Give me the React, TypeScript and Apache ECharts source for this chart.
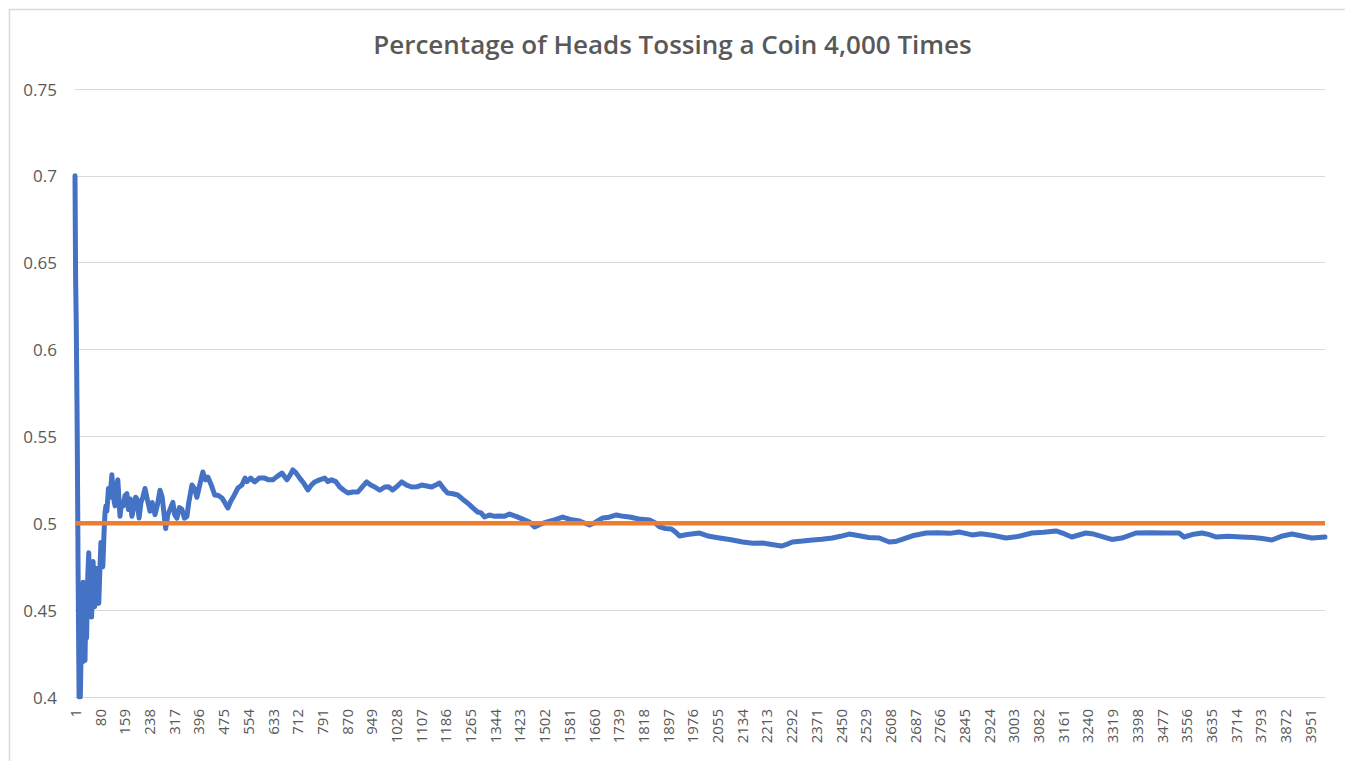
import React, { useEffect, useRef } from "react";
import * as echarts from "echarts";

const TITLE = "Percentage of Heads Tossing a Coin 4,000 Times";
const TOTAL_TOSSES = 4000;
const categories = Array.from({ length: TOTAL_TOSSES }, (_, i) => String(i + 1));

const yTicks = { min: 0.4, max: 0.75, interval: 0.05 };

const trials = [
  1, 3, 5, 8, 11, 14, 18, 22, 25, 27, 31, 33, 36, 38, 42, 45, 48, 51, 54, 59, 64, 68, 71, 74, 77, 81, 84, 88, 90, 94,
  97, 100, 103, 108, 113, 119, 124, 129, 134, 138, 145, 150, 156, 161, 167, 172, 178, 183, 190, 195, 199, 206, 212, 218,
  225, 232, 241, 248, 257, 264, 273, 280, 286, 291, 298, 305, 314, 320, 327, 335, 343, 351, 359, 365, 375, 383, 391,
  400, 410, 418, 426, 437, 448, 460, 471, 480, 490, 500, 510, 522, 535, 545, 551, 563, 576, 590, 608, 620, 634, 648,
  663, 679, 690, 698, 708, 720, 733, 746, 757, 768, 783, 800, 810, 822, 835, 848, 861, 874, 890, 906, 920, 934, 947,
  960, 976, 992, 1004, 1017, 1030, 1046, 1062, 1078, 1094, 1110, 1126, 1142, 1155, 1167, 1180, 1193, 1210, 1225, 1240,
  1257, 1273, 1289, 1300, 1311, 1327, 1343, 1359, 1375, 1391, 1412, 1433, 1455, 1471, 1490, 1509, 1535, 1561, 1590,
  1615, 1647, 1665, 1688, 1710, 1733, 1755, 1775, 1805, 1839, 1855, 1871, 1890, 1909, 1922, 1935, 1960, 1999, 2030,
  2063, 2100, 2137, 2170, 2201, 2230, 2261, 2280, 2296, 2330, 2360, 2390, 2424, 2450, 2478, 2510, 2540, 2574, 2606,
  2625, 2647, 2680, 2724, 2760, 2800, 2829, 2850, 2871, 2900, 2940, 2980, 3020, 3062, 3100, 3139, 3165, 3190, 3235,
  3260, 3290, 3318, 3350, 3395, 3440, 3490, 3533, 3549, 3575, 3606, 3630, 3651, 3690, 3734, 3770, 3800, 3830, 3860,
  3894, 3930, 3958, 3980, 4000,
];

const headsShare = [
  0.7, 0.64, 0.615, 0.555, 0.47, 0.4, 0.4, 0.44, 0.42, 0.466, 0.43, 0.421, 0.455, 0.434, 0.47, 0.483, 0.46, 0.47, 0.446,
  0.478, 0.452, 0.465, 0.474, 0.458, 0.454, 0.475, 0.489, 0.478, 0.475, 0.495, 0.506, 0.51, 0.507, 0.52, 0.515, 0.528,
  0.515, 0.51, 0.522, 0.525, 0.504, 0.512, 0.51, 0.516, 0.517, 0.508, 0.514, 0.504, 0.51, 0.515, 0.514, 0.503, 0.512,
  0.515, 0.52, 0.514, 0.507, 0.512, 0.505, 0.51, 0.519, 0.515, 0.505, 0.497, 0.505, 0.508, 0.512, 0.505, 0.503, 0.509,
  0.508, 0.503, 0.504, 0.512, 0.522, 0.52, 0.515, 0.522, 0.5295, 0.525, 0.5266, 0.522, 0.5163, 0.516, 0.5146, 0.512,
  0.5088, 0.513, 0.516, 0.5203, 0.522, 0.526, 0.524, 0.526, 0.5238, 0.526, 0.526, 0.525, 0.525, 0.527, 0.5289, 0.525,
  0.528, 0.5307, 0.529, 0.526, 0.523, 0.5192, 0.522, 0.5238, 0.525, 0.526, 0.524, 0.525, 0.524, 0.5209, 0.519, 0.5174,
  0.518, 0.518, 0.521, 0.5238, 0.522, 0.5209, 0.519, 0.5209, 0.521, 0.5192, 0.521, 0.5238, 0.522, 0.5209, 0.521, 0.522,
  0.5215, 0.5209, 0.522, 0.5232, 0.52, 0.5174, 0.517, 0.5163, 0.514, 0.5117, 0.509, 0.5065, 0.506, 0.5036, 0.5048,
  0.504, 0.5042, 0.504, 0.5053, 0.504, 0.5024, 0.5007, 0.4979, 0.4995, 0.5007, 0.502, 0.5036, 0.502, 0.5013, 0.499,
  0.5005, 0.503, 0.5035, 0.5048, 0.504, 0.5036, 0.5025, 0.5019, 0.5005, 0.4979, 0.497, 0.4967, 0.495, 0.4927, 0.4935,
  0.4944, 0.4925, 0.4915, 0.4905, 0.4892, 0.4885, 0.4886, 0.4878, 0.4869, 0.488, 0.4892, 0.4898, 0.4904, 0.4908,
  0.4915, 0.4925, 0.4938, 0.4928, 0.4918, 0.4915, 0.4892, 0.4895, 0.4907, 0.4928, 0.4944, 0.4946, 0.4942, 0.495,
  0.4942, 0.4933, 0.494, 0.493, 0.4915, 0.4925, 0.4944, 0.4948, 0.4956, 0.494, 0.4921, 0.4944, 0.4938, 0.4922, 0.4907,
  0.4915, 0.4944, 0.4946, 0.4944, 0.4944, 0.4921, 0.4935, 0.4944, 0.4935, 0.4921, 0.4926, 0.4921, 0.4918, 0.4912,
  0.4904, 0.4925, 0.4938, 0.4925, 0.4915, 0.4918, 0.4921,
];

const referenceTrials = [1, 4000];
const referenceShare = [0.5, 0.5];

export default function App() {
  const ref = useRef<HTMLDivElement>(null);

  useEffect(() => {
    if (!ref.current) return;
    const chart = echarts.init(ref.current, null, { renderer: "svg" });
    const textColor = "#595959";
    const font = "'Open Sans', 'Noto Sans', sans-serif";
    chart.setOption({
      animation: false,
      backgroundColor: "#ffffff",
      title: {
        text: TITLE,
        left: "center",
        top: 26,
        textStyle: { fontFamily: font, fontSize: 26, fontWeight: 600, color: textColor },
      },
      graphic: [
        {
          type: "rect",
          left: 7,
          top: 7,
          shape: { width: 1400, height: 820 },
          style: { fill: "none", stroke: "#d9d9d9", lineWidth: 1.5 },
          silent: true,
          z: -1,
        },
      ],
      grid: { left: 75, right: 20, top: 89, bottom: 64 },
      xAxis: {
        type: "category",
        data: categories,
        boundaryGap: false,
        axisLine: { show: true, lineStyle: { color: "#d9d9d9", width: 1 } },
        axisTick: { show: false },
        axisLabel: {
          interval: 78,
          rotate: 90,
          margin: 12,
          color: textColor,
          fontFamily: font,
          fontSize: 15,
        },
        splitLine: { show: false },
      },
      yAxis: {
        type: "value",
        min: yTicks.min,
        max: yTicks.max,
        interval: yTicks.interval,
        axisLine: { show: false },
        axisTick: { show: false },
        axisLabel: {
          margin: 18,
          color: textColor,
          fontFamily: font,
          fontSize: 17,
          formatter: (v: number) => String(parseFloat(v.toFixed(2))),
        },
        splitLine: { lineStyle: { color: "#d9d9d9", width: 1 } },
      },
      series: [
        {
          name: "Heads",
          type: "line",
          data: trials.map((t, i) => [t - 1, headsShare[i]]),
          showSymbol: false,
          clip: true,
          lineStyle: { color: "#4472C4", width: 5, join: "round", cap: "round" },
          itemStyle: { color: "#4472C4" },
        },
        {
          name: "Expected",
          type: "line",
          data: referenceTrials.map((t, i) => [t - 1, referenceShare[i]]),
          showSymbol: false,
          lineStyle: { color: "#ED7D31", width: 4.5 },
          itemStyle: { color: "#ED7D31" },
        },
      ],
    });
    return () => chart.dispose();
  }, []);

  return (
    <div
      ref={ref}
      style={{ position: "fixed", left: 0, top: 0, width: 1345, height: 761, background: "#fff" }}
    />
  );
}
